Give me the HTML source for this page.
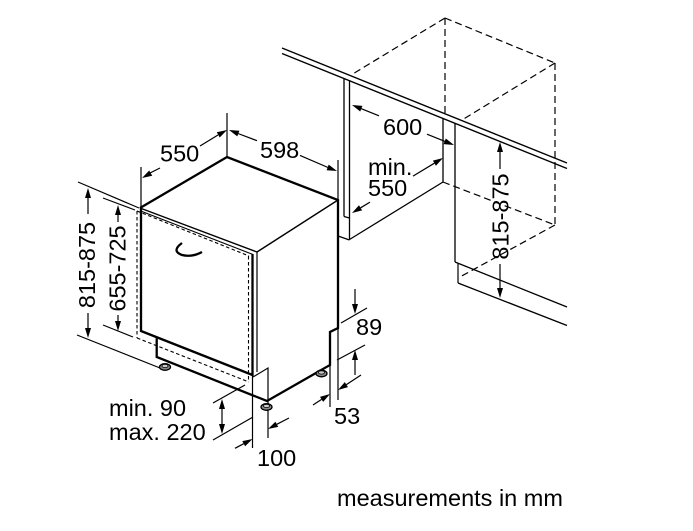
<!DOCTYPE html>
<html><head><meta charset="utf-8"><style>
html,body{margin:0;padding:0;background:#fff;}
svg{display:block;}
text{font-family:"Liberation Sans",Arial,sans-serif;font-size:23.5px;fill:#000;}
</style></head><body>
<svg width="693" height="531" viewBox="0 0 693 531" xmlns="http://www.w3.org/2000/svg">
<g fill="none" stroke="#000" stroke-linecap="butt" stroke-linejoin="miter">
  <!-- countertop -->
  <line x1="282" y1="48" x2="567" y2="163" stroke-width="1.4"/>
  <line x1="282" y1="53.5" x2="567" y2="168.5" stroke-width="1.4"/>
  <!-- cabinet side panel -->
  <line x1="344" y1="78" x2="344" y2="216.5" stroke-width="1.3"/>
  <line x1="349.5" y1="80" x2="349.5" y2="239.5" stroke-width="1.3"/>
  <line x1="344" y1="216.5" x2="349.5" y2="218" stroke-width="1.2"/>
  <line x1="338" y1="236" x2="349.5" y2="240" stroke-width="1.2"/>
  <line x1="349.5" y1="239.5" x2="443" y2="182" stroke-width="1.3"/>
  <line x1="443" y1="118" x2="443" y2="182" stroke-width="1.3"/>
  <line x1="455" y1="123" x2="455" y2="262" stroke-width="1.3"/>
  <line x1="455" y1="262" x2="567" y2="307" stroke-width="1.3"/>
  <line x1="458" y1="263" x2="458" y2="283" stroke-width="1.2"/>
  <line x1="458" y1="283" x2="567" y2="325.5" stroke-width="1.3"/>
  <!-- dashed wall cabinet / niche -->
  <g stroke-width="1.2" stroke-dasharray="7 4">
    <line x1="445" y1="18" x2="351" y2="75"/>
    <line x1="445" y1="18" x2="555" y2="63"/>
    <line x1="555" y1="63" x2="462" y2="120"/>
    <line x1="445" y1="18" x2="445" y2="117"/>
    <line x1="555" y1="63" x2="555" y2="224"/>
    <line x1="443" y1="182" x2="555" y2="225"/>
    <line x1="555" y1="225" x2="458" y2="278"/>
  </g>

  <!-- appliance thick outline -->
  <g stroke-width="2.3">
    <polyline points="140,208 227,157 338,200 338,328 330,332 330,365 267,401 156.7,357 156.7,338.3"/>
    <line x1="141" y1="207" x2="141" y2="332"/>
    <line x1="141" y1="331" x2="252.5" y2="375"/>
    <line x1="252.5" y1="254" x2="252.5" y2="376"/>
  </g>
  <line x1="338" y1="200" x2="257" y2="252" stroke-width="1.4"/>
  <line x1="140" y1="208" x2="257" y2="252" stroke-width="1.4"/>
  <line x1="142" y1="211.5" x2="253" y2="254.5" stroke-width="1.1"/>
  <line x1="257" y1="252" x2="257" y2="372" stroke-width="1.2"/>
  <!-- door dashed outline -->
  <g stroke-width="1.1" stroke-dasharray="3.5 2.5">
    <line x1="137" y1="211" x2="249" y2="256"/>
    <line x1="137" y1="211" x2="137" y2="338"/>
    <line x1="137" y1="338" x2="249" y2="382"/>
    <line x1="248.5" y1="256" x2="248.5" y2="382"/>
  </g>
  <!-- handle -->
  <path d="M182,243 Q171,251 182,255 Q192,257.5 202,252" stroke-width="2.3"/>
  <!-- small L at door bottom right -->
  <polyline points="253,377 268,368 268,438" stroke-width="1.2"/>
  <line x1="252.5" y1="376" x2="252.5" y2="448" stroke-width="1.2"/>

  <!-- extension lines (thin) -->
  <g stroke-width="1.2">
    <line x1="141" y1="167" x2="141" y2="207"/>
    <line x1="227" y1="113" x2="227" y2="157"/>
    <line x1="338" y1="160" x2="338" y2="200"/>
    <line x1="78" y1="182" x2="139" y2="208"/>
    <line x1="103" y1="198" x2="135" y2="210"/>
    <line x1="77" y1="335" x2="160" y2="368"/>
    <line x1="103" y1="325" x2="133" y2="337"/>
    <line x1="341" y1="323" x2="367" y2="308"/>
    <line x1="337" y1="360" x2="365" y2="345"/>
    <line x1="330" y1="365" x2="330" y2="407"/>
    <line x1="338" y1="328" x2="338" y2="400"/>
    <line x1="213" y1="403" x2="245" y2="385"/>
    <line x1="213" y1="440" x2="253" y2="417"/>
    <!-- dimension lines -->
    <line x1="88" y1="197" x2="88" y2="214"/>
    <line x1="88" y1="313" x2="88" y2="329"/>
    <line x1="118" y1="214" x2="118" y2="222"/>
    <line x1="118" y1="315" x2="118" y2="322"/>
    <line x1="150" y1="173" x2="160" y2="168"/>
    <line x1="200" y1="146" x2="218" y2="135"/>
    <line x1="238" y1="133.5" x2="257" y2="140.7"/>
    <line x1="300" y1="155.4" x2="328" y2="167.5"/>
    <line x1="361" y1="108.6" x2="379" y2="115.8"/>
    <line x1="427" y1="134.2" x2="445" y2="141.4"/>
    <line x1="360.6" y1="207.8" x2="370" y2="202.1"/>
    <line x1="413" y1="176.1" x2="434.4" y2="163.2"/>
    <line x1="500" y1="151" x2="500" y2="169"/>
    <line x1="500" y1="264" x2="500" y2="289"/>
    <line x1="355" y1="289" x2="355" y2="305"/>
    <line x1="355" y1="359" x2="355" y2="375"/>
    <line x1="313" y1="405" x2="321.6" y2="399.4"/>
    <line x1="346.4" y1="384.6" x2="361" y2="375"/>
    <line x1="235" y1="448.3" x2="243.7" y2="443.7"/>
    <line x1="276.8" y1="424.3" x2="289" y2="418"/>
    <line x1="222" y1="408" x2="222" y2="425"/>
  </g>
</g>

<!-- arrowheads -->
<g fill="#000" stroke="none">
  <polygon points="88,188 85,198 91,198"/>
  <polygon points="88,338 85,328 91,328"/>
  <polygon points="118,205 115,215 121,215"/>
  <polygon points="118,331 115,321 121,321"/>
  <polygon points="142,178 152.2,175.7 149.2,170.5"/>
  <polygon points="227,130 219.7,137.5 216.8,132.3"/>
  <polygon points="229,130 239.4,130.7 237.3,136.4"/>
  <polygon points="337,171 326.6,170.3 328.7,164.6"/>
  <polygon points="352,105 362.4,105.9 360.2,111.5"/>
  <polygon points="454,145 443.6,144.1 445.8,138.5"/>
  <polygon points="352,213 362.1,210.4 359,205.2"/>
  <polygon points="443,158 435.9,165.8 432.9,160.6"/>
  <polygon points="500,142 497,152 503,152"/>
  <polygon points="500,298 497,288 503,288"/>
  <polygon points="355,314 352,304 358,304"/>
  <polygon points="355,350 352,360 358,360"/>
  <polygon points="330,394 323.2,401.9 320,396.9"/>
  <polygon points="338,390 348,387.1 344.8,382.1"/>
  <polygon points="252.5,439 245.1,446.3 242.3,441.1"/>
  <polygon points="268,429 278.2,426.9 275.4,421.7"/>
  <polygon points="222,399 219,409 225,409"/>
  <polygon points="222,434 219,424 225,424"/>
</g>

<!-- feet -->
<g stroke="#000" stroke-width="1.3">
  <ellipse cx="165" cy="367" rx="5.5" ry="3.3" fill="#888"/>
  <ellipse cx="165" cy="366" rx="3" ry="1.6" fill="#ccc" stroke-width="0.8"/>
  <ellipse cx="266.5" cy="407" rx="5.5" ry="3.3" fill="#888"/>
  <ellipse cx="266.5" cy="406" rx="3" ry="1.6" fill="#ccc" stroke-width="0.8"/>
  <ellipse cx="321.5" cy="373.5" rx="5.5" ry="3.3" fill="#888"/>
  <ellipse cx="321.5" cy="372.5" rx="3" ry="1.6" fill="#ccc" stroke-width="0.8"/>
</g>

<!-- labels -->
<text x="160" y="161.5">550</text>
<text x="260" y="158">598</text>
<text x="383" y="135">600</text>
<text x="368" y="175">min.</text>
<text x="368" y="196">550</text>
<text x="356" y="335">89</text>
<text x="334" y="424">53</text>
<text x="257" y="466">100</text>
<text x="109" y="416">min. 90</text>
<text x="109" y="440">max. 220</text>
<text x="337" y="506">measurements in mm</text>
<text transform="translate(95,265) rotate(-90)" text-anchor="middle">815-875</text>
<text transform="translate(125.5,268.5) rotate(-90)" text-anchor="middle">655-725</text>
<text transform="translate(508.5,216.5) rotate(-90)" text-anchor="middle">815-875</text>
</svg>
</body></html>
